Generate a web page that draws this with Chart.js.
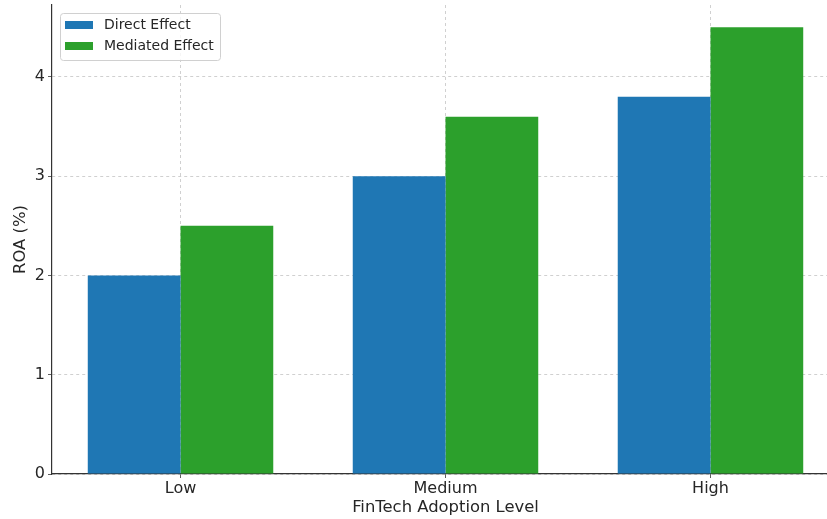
<!DOCTYPE html>
<html>
<head>
<meta charset="utf-8">
<script src="https://cdn.jsdelivr.net/npm/chart.js@4.4.1/dist/chart.umd.min.js"></script>
<style>
  html, body { margin: 0; padding: 0; background: #fff; overflow: hidden; }
  #wrap { width: 839px; height: 519px; }
</style>
</head>
<body>
<div id="wrap"><canvas id="chart" width="839" height="519"></canvas></div>
<script>
/* ================================
   Data
   ================================ */
const categories = ["Low", "Medium", "High"];
const directEffect = [2.0, 3.0, 3.8];
const mediatedEffect = [2.5, 3.6, 4.5];
const yTicks = [0, 1, 2, 3, 4];

const FONT = "'DejaVu Sans', sans-serif";
const gridColor = "rgba(176,176,176,0.75)";

// legend box in the upper left corner of the plot
const legendBox = {
  id: "legendBox",
  afterDraw(chart) {
    const ctx = chart.ctx;
    const x = chart.chartArea.left + 8;
    const y = 13;
    ctx.save();
    ctx.fillStyle = "rgba(255,255,255,0.8)";
    ctx.strokeStyle = "#d0d0d0";
    ctx.lineWidth = 1;
    ctx.beginPath();
    ctx.roundRect(x + 0.5, y + 0.5, 160, 47, 3);
    ctx.fill();
    ctx.stroke();
    ctx.font = "14px " + FONT;
    ctx.textBaseline = "middle";
    chart.data.datasets.forEach((ds, i) => {
      const rowY = y + 12 + i * 21;
      ctx.fillStyle = ds.backgroundColor;
      ctx.fillRect(x + 5, rowY - 4, 28, 8);
      ctx.fillStyle = "#262626";
      ctx.fillText(ds.label, x + 44, rowY);
    });
    ctx.restore();
  }
};

const ctx = document.getElementById("chart").getContext("2d");
new Chart(ctx, {
  type: "bar",
  data: {
    datasets: [
      {
        label: "Direct Effect",
        data: categories.map((c, i) => ({ x: i, y: directEffect[i] })),
        backgroundColor: "#1f77b4"
      },
      {
        label: "Mediated Effect",
        data: categories.map((c, i) => ({ x: i, y: mediatedEffect[i] })),
        backgroundColor: "#2ca02c"
      }
    ]
  },
  options: {
    responsive: false,
    animation: false,
    categoryPercentage: 0.7,
    barPercentage: 1.0,
    layout: { padding: { top: 5, right: 0, left: 0, bottom: 0 } },
    plugins: {
      legend: { display: false },
      tooltip: { enabled: false }
    },
    scales: {
      x: {
        type: "linear",
        min: -0.485,
        max: 2.485,
        offset: false,
        z: 1,
        afterBuildTicks: (scale) => {
          scale.ticks = categories.map((c, i) => ({ value: i }));
        },
        afterFit: (scale) => {
          scale.height = 45;
          scale.paddingLeft = 0;
          scale.paddingRight = 0;
        },
        ticks: {
          color: "#262626",
          font: { family: FONT, size: 16 },
          padding: 1,
          maxRotation: 0,
          callback: (value) => categories[value]
        },
        grid: {
          offset: false,
          color: gridColor,
          tickColor: "#333",
          tickLength: 4,
          tickBorderDash: [],
          lineWidth: 0.8
        },
        border: { display: true, color: "#333", width: 1.2, dash: [3, 3] },
        title: {
          display: true,
          text: "FinTech Adoption Level",
          color: "#262626",
          font: { family: FONT, size: 16.4 },
          padding: { top: 0, bottom: 1 }
        }
      },
      y: {
        min: 0,
        max: 4.725,
        z: 1,
        afterBuildTicks: (scale) => {
          scale.ticks = yTicks.map((v) => ({ value: v }));
        },
        afterFit: (scale) => {
          scale.width = 52;
          scale.paddingTop = 0;
          scale.paddingBottom = 0;
        },
        ticks: {
          color: "#262626",
          font: { family: FONT, size: 16 },
          padding: 3
        },
        grid: {
          color: gridColor,
          tickColor: "#333",
          tickLength: 4,
          tickBorderDash: [],
          lineWidth: 0.8
        },
        border: { display: true, color: "#333", width: 1.2, dash: [3, 3] },
        title: {
          display: true,
          text: "ROA (%)",
          color: "#262626",
          font: { family: FONT, size: 16.4 },
          padding: { top: 11, bottom: 0 }
        }
      }
    }
  },
  plugins: [legendBox]
});
</script>
</body>
</html>
